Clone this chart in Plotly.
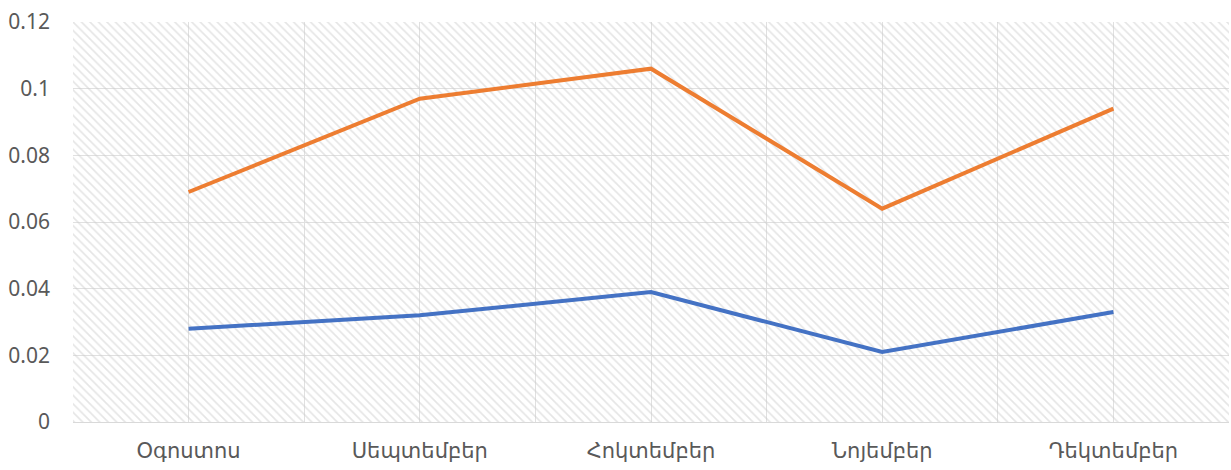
import plotly.graph_objects as go

categories = ["Օգոստոս", "Սեպտեմբեր", "Հոկտեմբեր", "Նոյեմբեր", "Դեկտեմբեր"]
series_orange = [0.069, 0.097, 0.106, 0.064, 0.094]
series_blue = [0.028, 0.032, 0.039, 0.021, 0.033]
y_ticks = [0, 0.02, 0.04, 0.06, 0.08, 0.1, 0.12]
y_ticktext = ["0", "0.02", "0.04", "0.06", "0.08", "0.1", "0.12"]

xpos = list(range(len(categories)))
grid_vals = [i * 0.5 - 0.5 for i in range(2 * len(categories) + 1)]
grid_text = []
for v in grid_vals:
    if abs(v - round(v)) < 1e-9:
        grid_text.append(categories[int(round(v))])
    else:
        grid_text.append("")

fig = go.Figure()
# hatched background of plot area
fig.add_trace(go.Bar(
    x=[(len(categories) - 1) / 2], y=[y_ticks[-1]], width=[len(categories)],
    marker=dict(color="rgba(0,0,0,0)", line=dict(width=0),
                pattern=dict(shape="\\", fgcolor="#cccccc", bgcolor="rgba(0,0,0,0)",
                             size=6, solidity=0.28, fillmode="overlay")),
    hoverinfo="skip", showlegend=False))
fig.add_trace(go.Scatter(x=xpos, y=series_blue, mode="lines",
                         line=dict(color="#4472C4", width=4), showlegend=False))
fig.add_trace(go.Scatter(x=xpos, y=series_orange, mode="lines",
                         line=dict(color="#ED7D31", width=4), showlegend=False))

font = dict(family="Noto Sans, DejaVu Sans, sans-serif", size=21, color="#595959")
fig.update_layout(
    width=1231, height=470,
    margin=dict(l=73, r=2, t=22, b=48),
    paper_bgcolor="white", plot_bgcolor="white",
    font=font, bargap=0,
    xaxis=dict(range=[-0.5, len(categories) - 0.5], tickmode="array",
               tickvals=grid_vals, ticktext=grid_text, showgrid=True,
               gridcolor="#e0e0e0", gridwidth=1, zeroline=False,
               showline=True, linecolor="#d9d9d9", linewidth=1,
               ticks="", ticklabelstandoff=10, fixedrange=True, automargin=False),
    yaxis=dict(range=[0, 0.12], tickmode="array", tickvals=y_ticks,
               ticktext=y_ticktext, showgrid=True, gridcolor="#e0e0e0",
               gridwidth=1, zeroline=False, showline=False, ticks="",
               ticklabelstandoff=22, fixedrange=True, automargin=False),
)
fig.write_html("out.html", config={"displayModeBar": False},
               post_script="document.body.style.margin='0';")
